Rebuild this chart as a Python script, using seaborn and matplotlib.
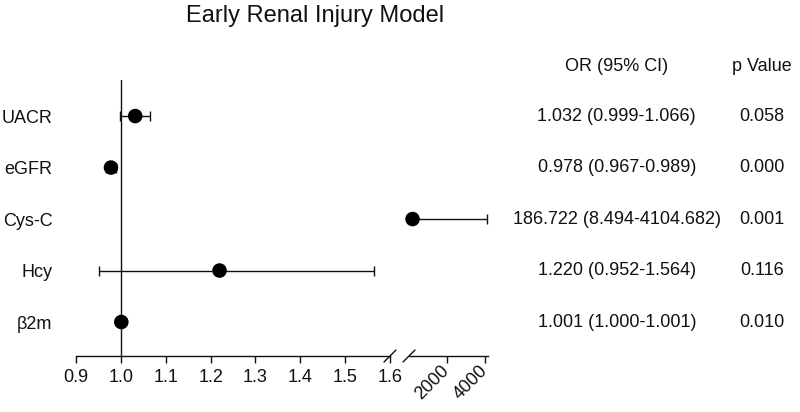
import matplotlib
matplotlib.use("Agg")
import matplotlib.pyplot as plt
import matplotlib.transforms as mtransforms
import pandas as pd
import seaborn as sns

# data
markers = ["UACR", "eGFR", "Cys-C", "Hcy", "β2m"]
odds = [1.032, 0.978, 186.722, 1.220, 1.001]
ci_low = [0.999, 0.967, 8.494, 0.952, 1.000]
ci_high = [1.066, 0.989, 4104.682, 1.564, 1.001]
or_text = ["1.032 (0.999-1.066)", "0.978 (0.967-0.989)", "186.722 (8.494-4104.682)",
           "1.220 (0.952-1.564)", "1.001 (1.000-1.001)"]
p_text = ["0.058", "0.000", "0.001", "0.116", "0.010"]
left_ticks = [0.9, 1.0, 1.1, 1.2, 1.3, 1.4, 1.5, 1.6]
right_ticks = [2000, 4000]

df = pd.DataFrame({"marker": markers, "OR": odds, "lo": ci_low, "hi": ci_high})
df["row"] = range(len(df))
split = 1.6
parts = [df[df["OR"] <= split], df[df["OR"] > split]]

sns.set_theme(style="white")
plt.rcParams["font.family"] = ["Liberation Sans", "DejaVu Sans"]
ink = "#111111"

fig = plt.figure(figsize=(8, 4.12), dpi=100)
ax = fig.add_axes([0.095, 0.1359, 0.3925, 0.6699])
ax2 = fig.add_axes([0.51125, 0.1359, 0.09875, 0.6699])

for a, part in zip((ax, ax2), parts):
    a.errorbar(part["OR"], part["row"], xerr=[part["OR"] - part["lo"], part["hi"] - part["OR"]],
               fmt="none", ecolor=ink, elinewidth=1.0, capsize=3.5, capthick=1.0, zorder=2)
    sns.scatterplot(data=part, x="OR", y="row", ax=a, color="black", s=110,
                    edgecolor="none", zorder=3, legend=False, clip_on=False)
    a.set_ylim(4.66, -0.70)
    a.set_xlabel("")
    a.set_ylabel("")
    for side in ("left", "top", "right"):
        a.spines[side].set_visible(False)
    a.spines["bottom"].set_color(ink)
    a.spines["bottom"].set_linewidth(1.0)
    a.tick_params(axis="x", direction="out", length=5, width=1.0, color=ink,
                  labelsize=13, labelcolor=ink, pad=4, bottom=True)

ax.axvline(1.0, color=ink, lw=1.0, zorder=1)
ax.set_xlim(0.9, 1.6)
ax.set_xticks(left_ticks)
ax.set_xticklabels([f"{t:.1f}" for t in left_ticks])
ax.set_yticks(df["row"])
ax.set_yticklabels(markers)
ax.tick_params(axis="y", length=0, labelsize=13, labelcolor=ink, pad=17)

ax2.set_xlim(0, 4160)
ax2.set_xticks(right_ticks)
ax2.set_xticklabels([str(t) for t in right_ticks], rotation=45, ha="right",
                    va="center", rotation_mode="anchor")
ax2.set_yticks([])

# axis break marks (about 12 px wide slashes)
kw = dict(color=ink, lw=1.0, clip_on=False)
ax.plot([1 - 6 / 314, 1 + 6 / 314], [-6 / 276, 6 / 276], transform=ax.transAxes, **kw)
ax2.plot([-6 / 79, 6 / 79], [-6 / 276, 6 / 276], transform=ax2.transAxes, **kw)

# OR and p columns
tr = mtransforms.blended_transform_factory(fig.transFigure, ax.transData)
ax.text(0.771, -0.97, "OR (95% CI)", transform=tr, ha="center", va="center",
        fontsize=13, color=ink, clip_on=False)
ax.text(0.9525, -0.97, "p Value", transform=tr, ha="center", va="center",
        fontsize=13, color=ink, clip_on=False)
for i in range(len(markers)):
    ax.text(0.771, i, or_text[i], transform=tr, ha="center", va="center",
            fontsize=13, color=ink, clip_on=False)
    ax.text(0.9525, i, p_text[i], transform=tr, ha="center", va="center",
            fontsize=13, color=ink, clip_on=False)

fig.text(315 / 800, 1 - 16 / 412, "Early Renal Injury Model", ha="center",
         va="center", fontsize=17, color=ink)

fig.savefig("out.png", dpi=100)
